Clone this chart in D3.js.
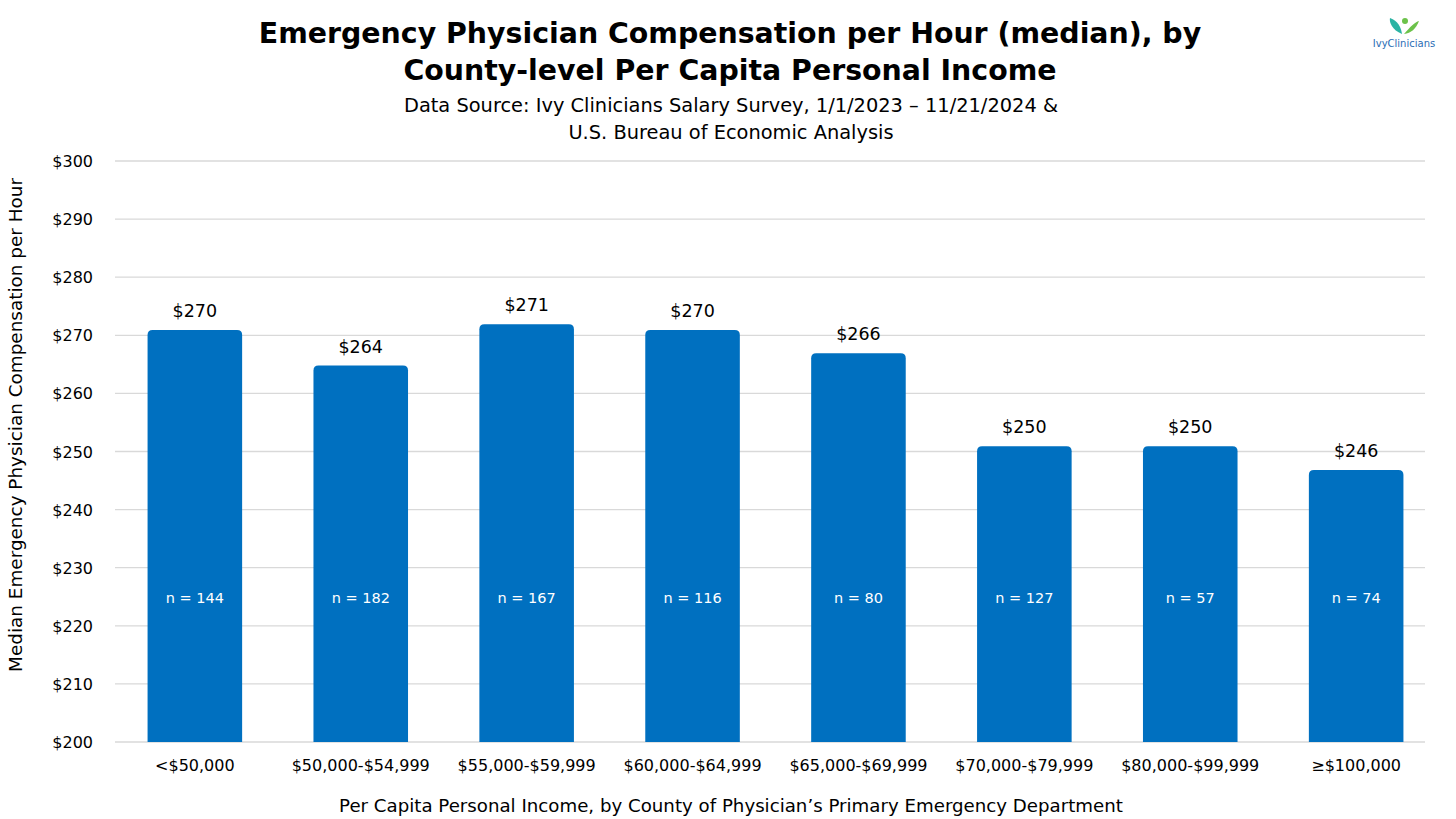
<!DOCTYPE html>
<html>
<head>
<meta charset="utf-8">
<script src="https://cdn.jsdelivr.net/npm/d3@7"></script>
<style>
  body { margin: 0; background: #fff; }
  svg { font-family: "DejaVu Sans", sans-serif; }
</style>
</head>
<body>
<svg id="chart" width="1456" height="819"></svg>
<script>
// data
const categories = ['<$50,000', '$50,000-$54,999', '$55,000-$59,999', '$60,000-$64,999',
  '$65,000-$69,999', '$70,000-$79,999', '$80,000-$99,999', '≥$100,000'];
const medians = [270.9, 264.8, 271.9, 270.9, 266.9, 250.9, 250.9, 246.8];
const valueLabels = ['$270', '$264', '$271', '$270', '$266', '$250', '$250', '$246'];
const counts = [144, 182, 167, 116, 80, 127, 57, 74];
const yTicks = [200, 210, 220, 230, 240, 250, 260, 270, 280, 290, 300];

const svg = d3.select('#chart');
const margin = {left: 115, right: 31, top: 161, bottom: 77};
const W = 1456, H = 819;

const x = d3.scaleBand()
  .domain(categories)
  .range([126, W - margin.right])
  .paddingInner(0.43)
  .paddingOuter(0.13);

const y = d3.scaleLinear()
  .domain([200, 300])
  .range([H - margin.bottom, margin.top]);

// gridlines
svg.append('g')
  .selectAll('line')
  .data(yTicks)
  .enter()
  .append('line')
  .attr('x1', margin.left)
  .attr('x2', W - margin.right)
  .attr('y1', (d) => y(d))
  .attr('y2', (d) => y(d))
  .attr('stroke', '#d9d9d9')
  .attr('stroke-width', 1.3);

// y tick labels
svg.append('g')
  .selectAll('text')
  .data(yTicks)
  .enter()
  .append('text')
  .attr('x', 93)
  .attr('y', (d) => y(d) + 6)
  .attr('text-anchor', 'end')
  .attr('font-size', 16)
  .text((d) => `$${d}`);

// bars with rounded tops
function barPath(d, i) {
  const x0 = x(categories[i]);
  const w = x.bandwidth();
  const yt = y(d);
  const yb = y(200);
  const r = 5;
  return `M${x0},${yb}V${yt + r}Q${x0},${yt} ${x0 + r},${yt}H${x0 + w - r}` +
    `Q${x0 + w},${yt} ${x0 + w},${yt + r}V${yb}Z`;
}

svg.append('g')
  .selectAll('path')
  .data(medians)
  .enter()
  .append('path')
  .attr('d', barPath)
  .attr('fill', '#0070c0');

// value labels
svg.append('g')
  .selectAll('text')
  .data(medians)
  .enter()
  .append('text')
  .attr('x', (d, i) => x(categories[i]) + x.bandwidth() / 2)
  .attr('y', (d) => y(d) - 13)
  .attr('text-anchor', 'middle')
  .attr('font-size', 17.5)
  .text((d, i) => valueLabels[i]);

// n labels
svg.append('g')
  .selectAll('text')
  .data(counts)
  .enter()
  .append('text')
  .attr('x', (d, i) => x(categories[i]) + x.bandwidth() / 2)
  .attr('y', y(225) + 6)
  .attr('text-anchor', 'middle')
  .attr('font-size', 14.5)
  .attr('fill', '#fff')
  .text((d) => `n = ${d}`);

// category labels
svg.append('g')
  .selectAll('text')
  .data(categories)
  .enter()
  .append('text')
  .attr('x', (d) => x(d) + x.bandwidth() / 2)
  .attr('y', 771)
  .attr('text-anchor', 'middle')
  .attr('font-size', 16)
  .text((d) => d);

// axis titles
svg.append('text')
  .attr('x', 731)
  .attr('y', 812)
  .attr('text-anchor', 'middle')
  .attr('font-size', 18.2)
  .text('Per Capita Personal Income, by County of Physician’s Primary Emergency Department');

svg.append('text')
  .attr('transform', 'translate(22,425) rotate(-90)')
  .attr('text-anchor', 'middle')
  .attr('font-size', 18.4)
  .text('Median Emergency Physician Compensation per Hour');

// titles
const title = svg.append('text')
  .attr('text-anchor', 'middle')
  .attr('font-size', 28.4)
  .attr('font-weight', 'bold');
title.append('tspan').attr('x', 730).attr('y', 43)
  .text('Emergency Physician Compensation per Hour (median), by');
title.append('tspan').attr('x', 730).attr('y', 80)
  .text('County-level Per Capita Personal Income');

const sub = svg.append('text')
  .attr('text-anchor', 'middle')
  .attr('font-size', 19.4);
sub.append('tspan').attr('x', 731).attr('y', 112)
  .text('Data Source: Ivy Clinicians Salary Survey, 1/1/2023 – 11/21/2024 &');
sub.append('tspan').attr('x', 731).attr('y', 139)
  .text('U.S. Bureau of Economic Analysis');

// logo
const logo = svg.append('g').attr('transform', 'translate(1404,30)');
logo.append('path')
  .attr('d', 'M-2,4 C-12,0 -15,-8 -14,-12 C-6,-9 -3,-3 -2,4Z')
  .attr('fill', '#2bb3a3');
logo.append('path')
  .attr('d', 'M0,4 C6,-3 11,-8 15,-9 C12,-1 7,3 0,4Z')
  .attr('fill', '#6cc24a');
logo.append('circle').attr('cx', 1).attr('cy', -9).attr('r', 3).attr('fill', '#6cc24a');
logo.append('text')
  .attr('x', 0)
  .attr('y', 17)
  .attr('text-anchor', 'middle')
  .attr('font-size', 10)
  .attr('fill', '#2a6db5')
  .text('IvyClinicians');
</script>
</body>
</html>
